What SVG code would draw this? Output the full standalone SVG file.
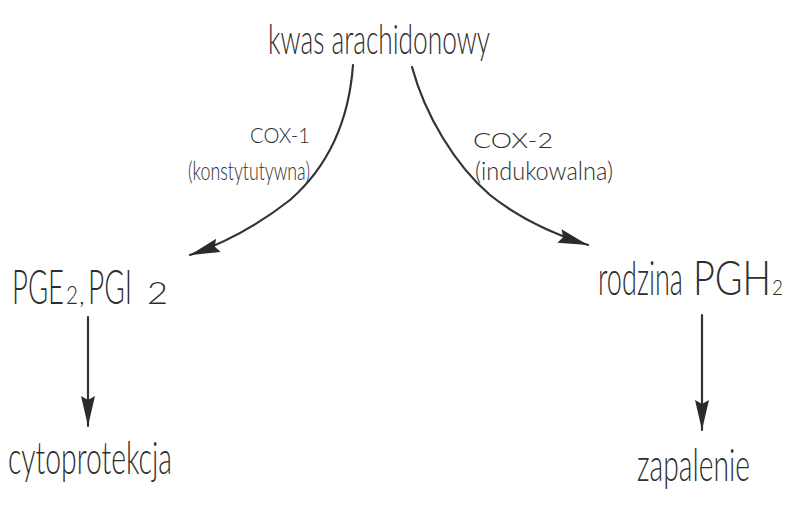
<svg xmlns="http://www.w3.org/2000/svg" width="786" height="524" viewBox="0 0 786 524">
  <style>
    .ink { fill: #2e2e2e; font-family: "Lato", "Open Sans", "Liberation Sans", sans-serif; font-weight: 300; }
    .line { fill: none; stroke: #333333; stroke-width: 2.2; stroke-linecap: round; }
  </style>
  <defs>
    <marker id="head" markerUnits="userSpaceOnUse" markerWidth="32" markerHeight="18" viewBox="0 0 32 18" refX="30" refY="9" orient="auto">
      <path d="M0,2 L30,9 L0,16 L4,9 Z" fill="#2b2b2b"/>
    </marker>
  </defs>
  <rect width="786" height="524" fill="#ffffff"/>

  <g id="kwas-arachidonowy">
    <text class="ink" x="268" y="54" font-size="42" textLength="222" lengthAdjust="spacingAndGlyphs">kwas arachidonowy</text>
  </g>

  <g id="cox1-label">
    <text class="ink" x="250" y="143" font-size="21" textLength="60" lengthAdjust="spacingAndGlyphs">COX-1</text>
    <text class="ink" x="188" y="180" font-size="25" textLength="122" lengthAdjust="spacingAndGlyphs">(konstytutywna)</text>
  </g>

  <g id="cox2-label">
    <text class="ink" x="473" y="148" font-size="22" textLength="80" lengthAdjust="spacingAndGlyphs">COX-2</text>
    <text class="ink" x="475" y="180" font-size="25" textLength="138" lengthAdjust="spacingAndGlyphs">(indukowalna)</text>
  </g>

  <g id="pge2-pgi2">
    <text class="ink" font-size="48" y="304"><tspan x="12" textLength="52" lengthAdjust="spacingAndGlyphs">PGE</tspan><tspan x="66" font-size="26" textLength="12" lengthAdjust="spacingAndGlyphs">2</tspan><tspan x="79" font-size="26">,</tspan><tspan x="88" textLength="44" lengthAdjust="spacingAndGlyphs">PGI</tspan><tspan x="147" font-size="32" textLength="21" lengthAdjust="spacingAndGlyphs">2</tspan></text>
  </g>

  <g id="rodzina-pgh2">
    <text class="ink" font-size="48" y="295"><tspan x="598" textLength="85" lengthAdjust="spacingAndGlyphs">rodzina</tspan><tspan x="693" textLength="78" lengthAdjust="spacingAndGlyphs">PGH</tspan><tspan x="772" font-size="22" textLength="11" lengthAdjust="spacingAndGlyphs">2</tspan></text>
  </g>

  <g id="cytoprotekcja">
    <text class="ink" x="8" y="474" font-size="46" textLength="164" lengthAdjust="spacingAndGlyphs">cytoprotekcja</text>
  </g>

  <g id="zapalenie">
    <text class="ink" x="637" y="481" font-size="46" textLength="113" lengthAdjust="spacingAndGlyphs">zapalenie</text>
  </g>

  <g id="connectors">
    <path class="line" d="M353,65 C349,120 330,165 290,200 C262,222 228,242 190,255" marker-end="url(#head)"/>
    <path class="line" d="M412,67 C425,115 455,165 490,195 C515,215 550,233 588,245" marker-end="url(#head)"/>
    <path class="line" d="M88,317 L88,426" marker-end="url(#head)"/>
    <path class="line" d="M702,315 L702,430" marker-end="url(#head)"/>
  </g>
</svg>
